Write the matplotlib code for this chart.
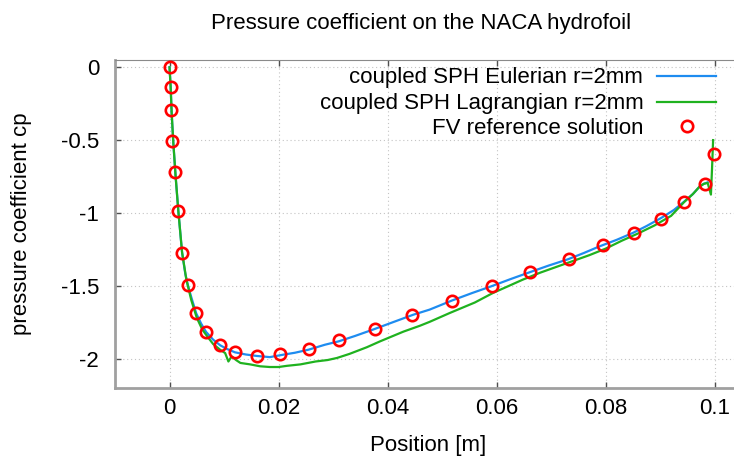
import matplotlib
matplotlib.use('Agg')
import matplotlib.pyplot as plt
from matplotlib.lines import Line2D

plt.rcParams['font.family'] = ['Liberation Sans', 'DejaVu Sans']

# FV reference solution (position along chord, cp)
fv_x = [0.0, 0.0002, 0.0003, 0.0005, 0.0010, 0.0016, 0.0023, 0.0034, 0.0049,
        0.0067, 0.0093, 0.0120, 0.0160, 0.0203, 0.0255, 0.0311, 0.0377, 0.0445,
        0.0519, 0.0591, 0.0662, 0.0732, 0.0795, 0.0852, 0.0902, 0.0944, 0.0982,
        0.0999]
fv_cp = [0.0, -0.135, -0.295, -0.508, -0.716, -0.984, -1.275, -1.497, -1.69,
         -1.817, -1.909, -1.957, -1.98, -1.968, -1.932, -1.87, -1.795, -1.698,
         -1.602, -1.499, -1.408, -1.316, -1.22, -1.135, -1.04, -0.927, -0.80,
         -0.595]

# coupled SPH, Eulerian
eu_x = [0.0, 0.0002, 0.0004, 0.0007, 0.0011, 0.0016, 0.0023, 0.0029, 0.0034,
        0.0040, 0.0049, 0.0058, 0.0067, 0.0080, 0.0093, 0.0106, 0.0120, 0.0140,
        0.0160, 0.0184, 0.0209, 0.0230, 0.0255, 0.0285, 0.0310, 0.0340, 0.0374,
        0.0410, 0.0447, 0.0477, 0.0519, 0.0555, 0.0590, 0.0625, 0.0660, 0.0695,
        0.0731, 0.0760, 0.0789, 0.0820, 0.0850, 0.0875, 0.0902, 0.0925, 0.0944,
        0.0960, 0.0972, 0.0980, 0.0987]
eu_cp = [0.0, -0.13, -0.32, -0.52, -0.74, -0.98, -1.27, -1.42, -1.50,
         -1.58, -1.69, -1.76, -1.817, -1.87, -1.909, -1.935, -1.957, -1.972,
         -1.982, -1.99, -1.973, -1.96, -1.939, -1.905, -1.882, -1.845, -1.80,
         -1.75, -1.699, -1.664, -1.60, -1.55, -1.504, -1.455, -1.408, -1.362,
         -1.318, -1.275, -1.229, -1.185, -1.137, -1.09, -1.034, -0.98, -0.922,
         -0.87, -0.82, -0.80, -0.79]

# coupled SPH, Lagrangian
la_x = [0.0, 0.0002, 0.0004, 0.0007, 0.0011, 0.0016, 0.0023, 0.0031, 0.0040,
        0.0050, 0.0060, 0.0069, 0.0080, 0.0093, 0.0102, 0.0108, 0.0114, 0.0122,
        0.0130, 0.0148, 0.0166, 0.0184, 0.0200, 0.0215, 0.0240, 0.0268, 0.0290,
        0.0307, 0.0330, 0.0362, 0.0386, 0.0429, 0.0459, 0.0477, 0.0514, 0.0560,
        0.0593, 0.0620, 0.0648, 0.0680, 0.0710, 0.0740, 0.0770, 0.0800, 0.0830,
        0.0860, 0.0890, 0.0920, 0.0944, 0.0960, 0.0972, 0.0980, 0.0987, 0.0993,
        0.0995, 0.0997]
la_cp = [0.0, -0.13, -0.32, -0.52, -0.74, -0.98, -1.27, -1.46, -1.60,
         -1.72, -1.80, -1.847, -1.90, -1.94, -1.962, -2.02, -1.985, -2.01,
         -2.03, -2.04, -2.053, -2.058, -2.058, -2.05, -2.04, -2.02, -2.01,
         -1.996, -1.968, -1.922, -1.882, -1.815, -1.775, -1.748, -1.687, -1.615,
         -1.55, -1.505, -1.458, -1.41, -1.37, -1.33, -1.29, -1.245, -1.19,
         -1.14, -1.085, -1.02, -0.925, -0.87, -0.82, -0.80, -0.794, -0.874,
         -0.70, -0.50]

labels = ["coupled SPH Eulerian r=2mm", "coupled SPH Lagrangian r=2mm",
          "FV reference solution"]
x_ticks = [0, 0.02, 0.04, 0.06, 0.08, 0.1]
x_ticklabels = ["0", "0.02", "0.04", "0.06", "0.08", "0.1"]
y_ticks = [0, -0.5, -1, -1.5, -2]
y_ticklabels = ["0", "-0.5", "-1", "-1.5", "-2"]

blue = '#1e8cf0'
green = '#1fb21f'
red = '#ff0000'
fs = 16
ms, mew = 8.2, 1.9

W, H = 734, 457
fig = plt.figure(figsize=(W / 100, H / 100), dpi=100)
ax = fig.add_axes([115 / W, 69.3 / H, 627 / W, 327.7 / H])

ax.plot(eu_x, eu_cp, color=blue, lw=1.6, zorder=3)
ax.plot(la_x, la_cp, color=green, lw=1.6, zorder=4)
ax.plot(fv_x, fv_cp, 'o', mfc='none', mec=red, ms=ms, mew=mew, zorder=5)

ax.set_xlim(-0.01, 0.105)
ax.set_ylim(-2.2, 0.05)
ax.set_xticks(x_ticks)
ax.set_xticklabels(x_ticklabels)
ax.set_yticks(y_ticks)
ax.set_yticklabels(y_ticklabels)

ax.grid(True, color='#c4c4c4', lw=0.8, linestyle=(0, (1, 2.5)))
ax.set_axisbelow(True)

ax.tick_params(axis='both', direction='in', length=4, width=1,
               color='#505050', labelsize=fs, labelcolor='black')
ax.tick_params(axis='x', pad=7.5, top=True)
ax.tick_params(axis='y', pad=11.5)

for side in ['left', 'bottom']:
    ax.spines[side].set_color('#a0a0a0')
    ax.spines[side].set_linewidth(2.0)
ax.spines['top'].set_color('#8a8a8a')
ax.spines['top'].set_linewidth(0.8)
ax.spines['right'].set_visible(False)

ax.set_title("Pressure coefficient on the NACA hydrofoil", fontsize=fs,
             x=(421 - 115) / 627, pad=22)
fig.text(428 / W, 1 - 451 / H, "Position [m]", fontsize=fs,
         ha='center', va='baseline')
fig.text(22 / W, 1 - 224 / H, "pressure coefficient cp", fontsize=fs,
         rotation=90, ha='center', va='center')

# key: right-aligned text with the sample to its right
text_right = 643.3 / W
key_y = [76, 101.7, 126]
for i, lab in enumerate(labels):
    yc = 1 - key_y[i] / H
    fig.text(text_right, yc - 7.5 / H, lab, fontsize=fs, ha='right',
             va='baseline')
    if i < 2:
        col = blue if i == 0 else green
        fig.add_artist(Line2D([657.3 / W, 716 / W], [yc, yc], color=col,
                              lw=1.6, transform=fig.transFigure))
    else:
        fig.add_artist(Line2D([686.5 / W], [yc], marker='o', mfc='none',
                              mec=red, ms=ms, mew=mew, linestyle='none',
                              transform=fig.transFigure))

fig.savefig('out.png', dpi=100)
